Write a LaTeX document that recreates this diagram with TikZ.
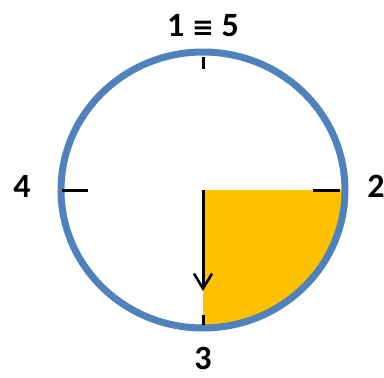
\documentclass[tikz,border=0pt]{standalone}
\usepackage{fontspec}
\setmainfont{Carlito}
\newfontfamily\symfont{DejaVu Sans}
\usetikzlibrary{arrows.meta}
\definecolor{dialblue}{RGB}{79,129,189}
\definecolor{sectorgold}{RGB}{255,192,0}

\begin{document}
\begin{tikzpicture}[x=1pt,y=-1pt,line width=3pt,
        numlabel/.style={font=\fontsize{34}{40}\selectfont\bfseries,inner sep=0pt}]
        \useasboundingbox (0,0) rectangle (384,378);
        \coordinate (o) at (203,190);
        \coordinate (stop) at (203,291);
        \fill[sectorgold] (o) -- (343,190) arc[start angle=0,end angle=90,x radius=140,y radius=136] -- cycle;
        \draw[dialblue,line width=7pt] (o) ellipse[x radius=142,y radius=138];
        \draw (203,57) -- (203,69);
        \draw (203,315) -- (203,325);
        \draw (62,190) -- (88,190);
        \draw (313,190) -- (340,190);
        \draw[-{Straight Barb[length=15pt,width=18pt,line width=2.5pt]}] (o) -- (stop);
        \node[numlabel] (top) at (203,26) {1 {\symfont\fontsize{26}{30}\selectfont\bfseries ≡} 5};
        \node[numlabel] (left) at (22,186) {4};
        \node[numlabel] (right) at (376,186) {2};
        \node[numlabel] (bottom) at (203,358) {3};
    \end{tikzpicture}
\end{document}
